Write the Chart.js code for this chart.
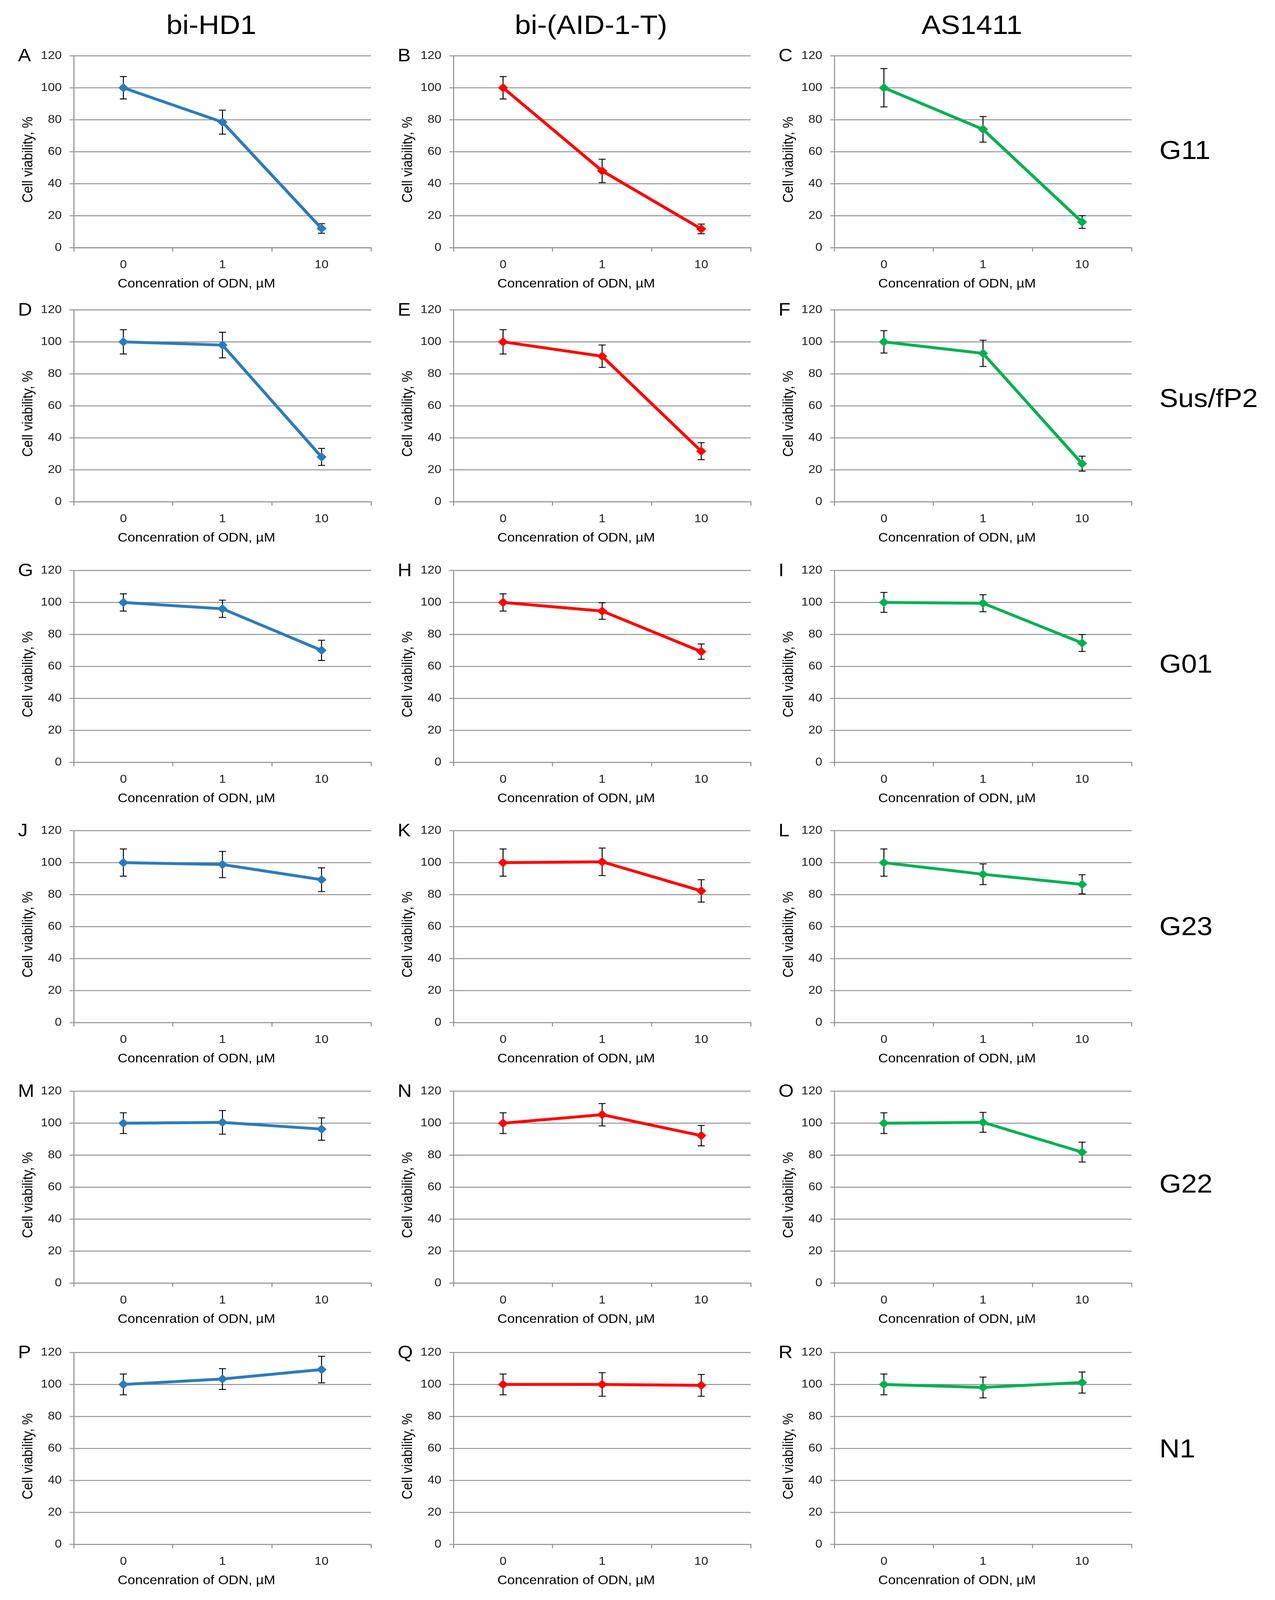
<!DOCTYPE html>
<html>
<head>
<meta charset="utf-8">
<script src="https://cdn.jsdelivr.net/npm/chart.js@4.4.1/dist/chart.umd.min.js"></script>
<style>
html, body { margin: 0; padding: 0; background: #fff; overflow: hidden; }
#page { position: relative; width: 3264px; height: 4452px; overflow: hidden; background: #fff;
        font-family: "Liberation Sans", Arial, sans-serif; transform-origin: 0 0; }
#page canvas { position: absolute; }
.lbl { position: absolute; white-space: nowrap; color: #000; line-height: 1; }
</style>
</head>
<body>
<div id="page"></div>
<script>
// ---------------- data ----------------
const concentrations = ['0', '1', '10'];
const compounds = ['bi-HD1', 'bi-(AID-1-T)', 'AS1411'];
const cellLines = ['G11', 'Sus/fP2', 'G01', 'G23', 'G22', 'N1'];
const panelLetters = [
  ['A', 'B', 'C'], ['D', 'E', 'F'], ['G', 'H', 'I'],
  ['J', 'K', 'L'], ['M', 'N', 'O'], ['P', 'Q', 'R']
];
const yTicks = [0, 20, 40, 60, 80, 100, 120];
const xAxisTitle = 'Concenration of ODN, µM';
const yAxisTitle = 'Cell viability, %';

// mean cell viability, % and its error (rows: G11, Sus/fP2, G01, G23, G22, N1)
const hd1Mean = [[100, 78.5, 12], [100, 98, 28], [100, 96, 70], [100, 98.8, 89.3], [100, 100.5, 96.3], [100, 103.4, 109.3]];
const hd1Err  = [[7, 7.5, 3], [7.6, 8, 5.3], [5.4, 5.4, 6.3], [8.5, 8.2, 7.4], [6.5, 7.4, 7], [6.5, 6.5, 8.3]];
const aidMean = [[100, 48, 11.7], [100, 91, 31.6], [100, 94.6, 69.2], [100, 100.5, 82.3], [100, 105.3, 92.2], [100, 100, 99.4]];
const aidErr  = [[7, 7.3, 3], [7.6, 7, 5.3], [5.4, 5.2, 4.8], [8.5, 8.6, 7], [6.5, 7, 6.4], [6.5, 7.4, 6.8]];
const asMean  = [[100, 74, 16], [100, 92.8, 23.8], [100, 99.5, 74.6], [100, 92.7, 86.4], [100, 100.5, 81.9], [100, 98.1, 101.2]];
const asErr   = [[12, 8, 4], [7, 8.2, 4.7], [6.2, 5.3, 5.3], [8.5, 6.5, 6], [6.5, 6.2, 6.2], [6.5, 6.5, 6.6]];

// ---------------- styling / layout ----------------
const seriesMeans = [hd1Mean, aidMean, asMean];
const seriesErrs = [hd1Err, aidErr, asErr];
const seriesColors = ['#2b7bba', '#ff0000', '#00b050'];
const FONT = '"Liberation Sans", Arial, sans-serif';
const GRID = '#8a8a8a';
const PAGE_W = 3264, PAGE_H = 4452;
const PLOT_LEFT = [189, 1161, 2136];
const PLOT_W = 762;
const PLOT_TOP = [146, 853, 1578, 2302, 3027, 3754];
const PLOT_H = 543;
const Y_AXIS_W = 138, PAD_L = 20, PAD_R = 12, PAD_T = 30, X_AXIS_H = 132;
const ROW_LABEL_BASE = [442, 1133, 1872, 2602, 3318, 4055];
const ROW_LABEL_X = 2968;

const page = document.getElementById('page');

function addLabel(text, x, baseline, size, center) {
  const d = document.createElement('div');
  d.className = 'lbl';
  d.textContent = text;
  d.style.fontSize = size + 'px';
  d.style.top = (baseline - 0.8465 * size) + 'px';
  d.style.left = x + 'px';
  if (center) d.style.transform = 'translateX(-50%)';
  page.appendChild(d);
}

const errorBarPlugin = {
  id: 'errorBars',
  beforeDatasetsDraw(chart) {
    const ctx = chart.ctx;
    const yScale = chart.scales.y;
    chart.data.datasets.forEach((ds, i) => {
      const meta = chart.getDatasetMeta(i);
      meta.data.forEach((pt, j) => {
        const v = ds.data[j], e = ds.errors[j];
        const yTop = yScale.getPixelForValue(v + e);
        const yBot = yScale.getPixelForValue(v - e);
        ctx.save();
        ctx.strokeStyle = '#000';
        ctx.lineWidth = 2.5;
        ctx.beginPath();
        ctx.moveTo(pt.x, yTop); ctx.lineTo(pt.x, yBot);
        ctx.moveTo(pt.x - 9, yTop); ctx.lineTo(pt.x + 9, yTop);
        ctx.moveTo(pt.x - 9, yBot); ctx.lineTo(pt.x + 9, yBot);
        ctx.stroke();
        ctx.restore();
      });
    });
  }
};

// axis titles, placed like the original (x title left of centre, y title a bit low)
const axisTitlePlugin = {
  id: 'axisTitles',
  afterDraw(chart, args, opts) {
    const ctx = chart.ctx;
    const a = chart.chartArea;
    ctx.save();
    ctx.fillStyle = '#000';
    ctx.textAlign = 'center';
    ctx.textBaseline = 'middle';
    ctx.font = opts.xSize + 'px ' + FONT;
    ctx.fillText(opts.xText, a.left + opts.xDx, a.bottom + opts.xDy);
    ctx.translate(a.left - opts.yDx, (a.top + a.bottom) / 2 + opts.yDy);
    ctx.rotate(-Math.PI / 2);
    ctx.font = opts.ySize + 'px ' + FONT;
    ctx.fillText(opts.yText, 0, 0);
    ctx.restore();
  }
};

function makePanel(r, c) {
  const canvas = document.createElement('canvas');
  const w = PAD_L + Y_AXIS_W + PLOT_W + PAD_R;
  const h = PAD_T + PLOT_H + X_AXIS_H;
  canvas.width = w; canvas.height = h;
  canvas.style.width = w + 'px'; canvas.style.height = h + 'px';
  canvas.style.left = (PLOT_LEFT[c] - Y_AXIS_W - PAD_L) + 'px';
  canvas.style.top = (PLOT_TOP[r] - PAD_T) + 'px';
  page.appendChild(canvas);
  const color = seriesColors[c];

  new Chart(canvas, {
    type: 'line',
    data: {
      labels: concentrations,
      datasets: [{
        label: compounds[c] + ' / ' + cellLines[r],
        data: seriesMeans[c][r],
        errors: seriesErrs[c][r],
        borderColor: color,
        backgroundColor: color,
        borderWidth: 8,
        tension: 0,
        pointStyle: 'rectRot',
        pointRadius: 13,
        pointHoverRadius: 13,
        pointBorderWidth: 0,
        pointBackgroundColor: color,
        clip: false
      }]
    },
    options: {
      responsive: false,
      maintainAspectRatio: false,
      animation: false,
      devicePixelRatio: 1,
      events: [],
      layout: { padding: { left: PAD_L, right: PAD_R, top: PAD_T, bottom: 0 } },
      plugins: {
        legend: { display: false },
        tooltip: { enabled: false },
        axisTitles: { xText: xAxisTitle, xSize: 35, xDx: 314, xDy: 101,
                      yText: yAxisTitle, ySize: 36, yDx: 116, yDy: 22 }
      },
      scales: {
        x: {
          type: 'category',
          offset: true,
          grid: { offset: true, drawOnChartArea: false, drawTicks: true, tickLength: 11, color: GRID, lineWidth: 2.5 },
          border: { display: true, color: GRID, width: 2.5 },
          ticks: { padding: 18, maxRotation: 0, autoSkip: false, color: '#1a1a1a', font: { family: FONT, size: 32 } },
          afterFit: s => { s.height = X_AXIS_H; }
        },
        y: {
          min: yTicks[0],
          max: yTicks[yTicks.length - 1],
          afterBuildTicks: s => { s.ticks = yTicks.map(v => ({ value: v })); },
          grid: { color: GRID, lineWidth: 2.5, drawTicks: true, tickLength: 11 },
          border: { display: true, color: GRID, width: 2.5 },
          ticks: { padding: 20, color: '#1a1a1a', font: { family: FONT, size: 32 } },
          title: { display: false, text: yAxisTitle },
          afterFit: s => { s.width = Y_AXIS_W; }
        }
      }
    },
    plugins: [errorBarPlugin, axisTitlePlugin]
  });

  addLabel(panelLetters[r][c], PLOT_LEFT[c] - 143, PLOT_TOP[r] + 25, 50, false);
}

for (let r = 0; r < cellLines.length; r++) {
  for (let c = 0; c < compounds.length; c++) makePanel(r, c);
  addLabel(cellLines[r], ROW_LABEL_X, ROW_LABEL_BASE[r], 72, false);
}
for (let c = 0; c < compounds.length; c++) {
  addLabel(compounds[c], PLOT_LEFT[c] + 352, 96, 74, true);
}

// The browser viewport may be shorter than the figure: fit the whole figure into it.
const fitY = Math.min(1, window.innerHeight / PAGE_H);
const fitX = Math.min(1, window.innerWidth / PAGE_W);
page.style.transform = 'scale(' + fitX + ',' + fitY + ')';
</script>
</body>
</html>
